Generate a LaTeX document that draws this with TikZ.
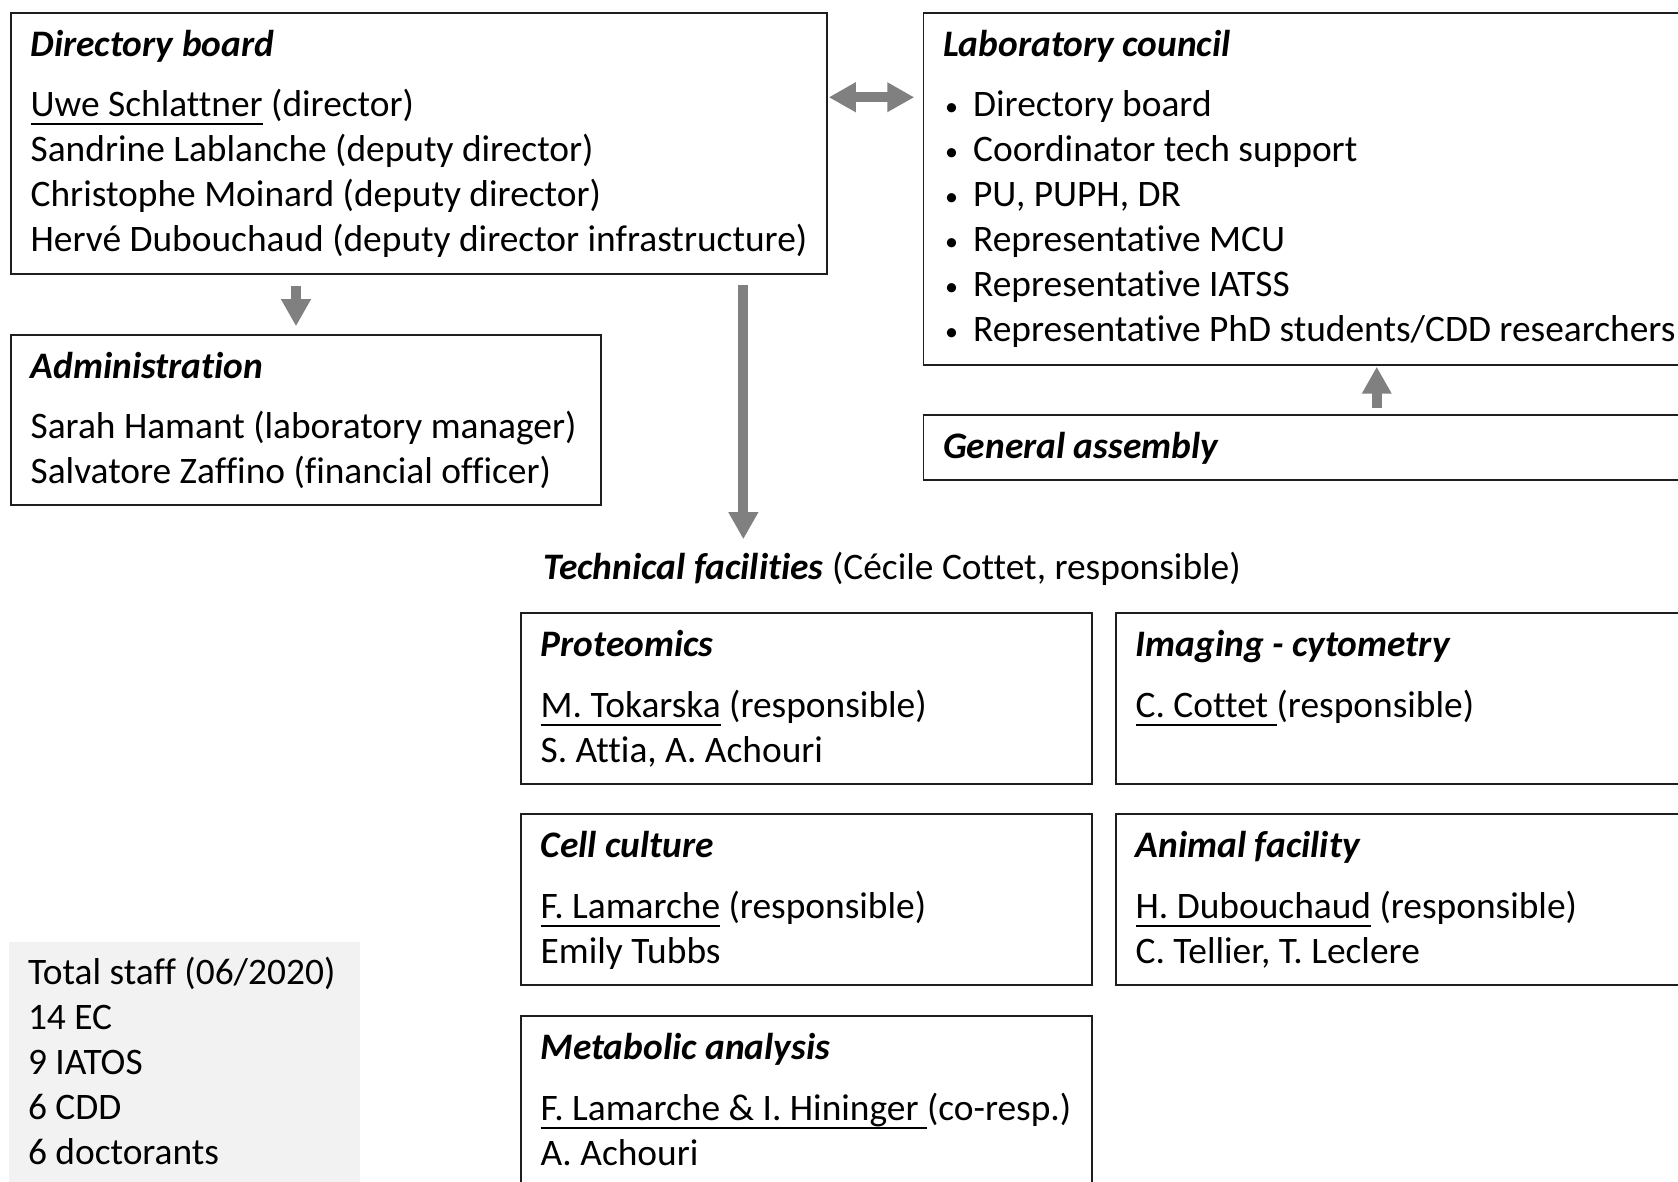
\documentclass[tikz,border=0pt]{standalone}
\usepackage{fontspec}
\setmainfont[Ligatures=NoCommon]{Carlito}
\usetikzlibrary{arrows.meta, fit, positioning}
\definecolor{arrowgrey}{RGB}{128, 128, 128}
\definecolor{boxline}{RGB}{30, 30, 30}
\definecolor{staffgrey}{RGB}{242, 242, 242}
\newcommand{\resp}[1]{\setbox0\hbox{#1}\rlap{\rule[-4.5pt]{\wd0}{1.3pt}}\box0\relax}
\newcommand{\bul}{\makebox[14pt][l]{\raisebox{0.6pt}{\fontsize{13}{13}\selectfont •}}}

\begin{document}
\begin{tikzpicture}[
   x=0.5pt, y=-0.5pt,
   box/.style={draw=boxline, line width=0.75pt, inner sep=0},
   staffbox/.style={fill=staffgrey, inner sep=0},
   txt/.style={inner sep=0, anchor=base west, font=\fontsize{18.7}{22.5}\selectfont},
   head/.style={txt, font=\fontsize{18.7}{22.5}\selectfont\bfseries\itshape},
   garrow/.style={draw=arrowgrey, line width=5pt,
                  -{Triangle[length=13.5pt, width=14pt]}},
   gdarrow/.style={garrow, {Triangle[length=13.5pt, width=14pt]}-{Triangle[length=13.5pt, width=14pt]}}
  ]

  \useasboundingbox (0, 0) rectangle (1678, 1182);
  \clip (0, 0) rectangle (1678, 1182);

  % Boxes
  \node (dirboard) [box, fit={(11, 13) (827, 274)}] {};
  \node (admin) [box, fit={(11, 335) (601, 505)}] {};
  \node (labcouncil) [box, fit={(923.5, 13) (1700, 365)}] {};
  \node (genassembly) [box, fit={(923.5, 415) (1700, 480)}] {};
  \node (proteo) [box, fit={(521, 613) (1092, 784)}] {};
  \node (imaging) [box, fit={(1116, 613) (1700, 784)}] {};
  \node (cellcult) [box, fit={(521, 814) (1092, 985)}] {};
  \node (animal) [box, fit={(1116, 814) (1700, 985)}] {};
  \node (metabo) [box, fit={(521, 1016) (1092, 1200)}] {};
  \node (staff) [staffbox, fit={(9, 942) (360, 1200)}] {};

  % Directory board
  \node (dbh) at ([shift={(20, 44)}]dirboard.north west) [head] {Directory board};
  \foreach \t [count=\i] in {{\resp{Uwe Schlattner} (director)},
                             {Sandrine Lablanche (deputy director)},
                             {Christophe Moinard (deputy director)},
                             {Hervé Dubouchaud (deputy director infrastructure)}} {
    \node (db\i) at ([shift={(20, 59 + 45 * \i)}]dirboard.north west) [txt] {\t};
  }

  % Administration
  \node (adh) at ([shift={(20, 44)}]admin.north west) [head] {Administration};
  \foreach \t [count=\i] in {{Sarah Hamant (laboratory manager)},
                             {Salvatore Zaffino (financial officer)}} {
    \node (ad\i) at ([shift={(20, 59 + 45 * \i)}]admin.north west) [txt] {\t};
  }

  % Laboratory council
  \node (lch) at ([shift={(20, 44)}]labcouncil.north west) [head] {Laboratory council};
  \foreach \t [count=\i] in {{Directory board}, {Coordinator tech support},
                             {PU, PUPH, DR}, {Representative MCU},
                             {Representative IATSS},
                             {Representative PhD students/CDD researchers}} {
    \node (lc\i) at ([shift={(22, 59 + 45 * \i)}]labcouncil.north west) [txt] {\bul\t};
  }

  \node (gah) at ([shift={(20, 44)}]genassembly.north west) [head] {General assembly};

  % Technical facilities
  \node (techfac) at (543, 580) [txt]
    {\textbf{\textit{Technical facilities}} (Cécile Cottet, responsible)};

  \node (prh) at ([shift={(20, 44)}]proteo.north west) [head] {Proteomics};
  \node (pr1) at ([shift={(20, 105)}]proteo.north west) [txt] {\resp{M. Tokarska} (responsible)};
  \node (pr2) at ([shift={(20, 150)}]proteo.north west) [txt] {S. Attia, A. Achouri};

  \node (imh) at ([shift={(20, 44)}]imaging.north west) [head] {Imaging - cytometry};
  \node (im1) at ([shift={(20, 105)}]imaging.north west) [txt] {\resp{C. Cottet\ }(responsible)};

  \node (cch) at ([shift={(20, 44)}]cellcult.north west) [head] {Cell culture};
  \node (cc1) at ([shift={(20, 105)}]cellcult.north west) [txt] {\resp{F. Lamarche} (responsible)};
  \node (cc2) at ([shift={(20, 150)}]cellcult.north west) [txt] {Emily Tubbs};

  \node (afh) at ([shift={(20, 44)}]animal.north west) [head] {Animal facility};
  \node (af1) at ([shift={(20, 105)}]animal.north west) [txt] {\resp{H. Dubouchaud} (responsible)};
  \node (af2) at ([shift={(20, 150)}]animal.north west) [txt] {C. Tellier, T. Leclere};

  \node (mah) at ([shift={(20, 44)}]metabo.north west) [head] {Metabolic analysis};
  \node (ma1) at ([shift={(20, 105)}]metabo.north west) [txt] {\resp{F. Lamarche \& I. Hininger\ }(co-resp.)};
  \node (ma2) at ([shift={(20, 150)}]metabo.north west) [txt] {A. Achouri};

  % Staff
  \foreach \t [count=\i] in {{Total staff (06/2020)}, {14 EC}, {9 IATOS},
                             {6 CDD}, {6 doctorants}} {
    \node (st\i) at ([shift={(19, -2 + 45 * \i)}]staff.north west) [txt] {\t};
  }

  % Arrows
  \draw[garrow] ([xshift=-5pt, yshift=-5.5pt]dirboard.south -| admin.north)
    -- ([xshift=-5pt, yshift=4pt]admin.north);
  \draw[garrow] ([xshift=-42.2pt, yshift=-5pt]dirboard.south east)
    -- ([xshift=-42.2pt, yshift=6.5pt]dirboard.south east |- techfac.north);
  \draw[gdarrow] ([xshift=0.5pt, yshift=-42.5pt]dirboard.north east)
    -- ([xshift=-4.25pt, yshift=-42.5pt]labcouncil.north west);
  \draw[garrow] ([xshift=227pt, yshift=3pt]genassembly.north west)
    -- ([xshift=227pt, yshift=-0.5pt]labcouncil.south west);

\end{tikzpicture}
\end{document}
